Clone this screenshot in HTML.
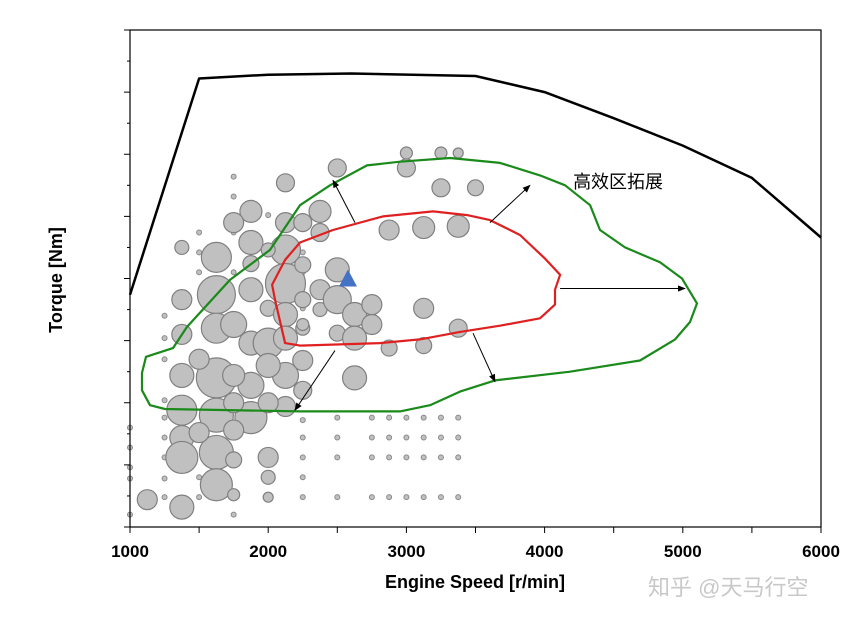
<!DOCTYPE html>
<html><head><meta charset="utf-8"><style>
html,body{margin:0;padding:0;background:#fff;width:853px;height:620px;overflow:hidden}
svg{display:block}
text{font-family:"Liberation Sans",Arial,sans-serif}
</style></head><body>
<svg id="chart" width="853" height="620" viewBox="0 0 853 620" xmlns="http://www.w3.org/2000/svg" style="position:absolute;left:0;top:0">
<defs><marker id="ah" viewBox="0 0 10 10" refX="9" refY="5" markerWidth="8" markerHeight="8" orient="auto"><path d="M0,1 L10,5 L0,9 z" fill="#000"/></marker></defs>
<g id="bubbles"></g>
<g id="lines"></g>
<g id="axes"></g>
</svg>
<script>
// ---- data ----
const xTicks=[1000,2000,3000,4000,5000,6000];
const fullSpeed=[1000,1500,2000,2600,3500,4000,4500,5000,5500,6000];
const fullTorque=[187,361,364,365,363,350,329,307,281,233];
const greenSpeed=[1087,1116,1311,1412,1724,2013,2230,2447,2715,2954,3316,3677,3967,4148,4329,4401,4582,4835,4994,5103,5052,4944,4690,4184,3641,3388,3171,2954,2230,1253,1145,1087];
const greenTorque=[124,137,144,161,199,223,259,275,291,294,297,293,283,275,259,239,225,213,200,180,165,151,134,125,118,109,98,93,93,95,98,110];
const redSpeed=[2049,2028,2122,2230,2469,2831,3193,3439,3605,3822,4003,4112,4075,4075,3967,3677,3388,3098,2809,2230,2122];
const redTorque=[183,195,215,229,239,250,254,251,247,235,216,203,191,179,168,162,157,151,148,146,148];
const arrowFromS=[2628,3605,4112,3482,2483];
const arrowFromT=[245,245,192,156,142];
const arrowToS=[2469,3894,5016,3641,2194];
const arrowToT=[279,275,192,117,94];
// bubbles: speed, torque, size (radius px)
const bubSpeed=[1875,1750,2125,1375,1625,1875,2125,1625,1875,2125,1375,2000,2125,1625,1750,1375,1875,2000,2125,2250,
1625,1375,1875,2125,1375,1625,1875,2125,1375,1375,1625,1750,2000,2000,1625,1750,1375,2000,1125,
1750,1500,1750,1500,1750,2000,2000,1875,2000,2125,
2250,2250,2250,2250,2250,2250,2375,2375,2375,2375,
2500,2500,2500,2500,2625,2625,2625,2750,2750,2875,2875,3125,3125,3125,3375,3375,
3000,3250,3500,3000,3250,3375];
const bubTorque=[254,245,245,225,217,229,223,187,191,196,183,176,171,160,163,155,148,148,152,160,
120,122,114,122,94,90,88,97,72,56,60,54,56,40,34,26,16,24,22,
78,76,122,135,100,130,100,212,223,277,
245,211,183,163,134,110,254,237,191,175,
289,207,183,156,171,152,120,163,179,239,144,241,176,146,242,160,
289,273,273,301,301,301];
const bubSize=[11,10,10,7,15,12,15,19,12,20,10,8,12,15,13,10,12,15,12,7,
20,12,13,13,15,17,16,10,12,16,17,8,10,7,16,6,12,5,10,
10,10,11,10,10,12,10,8,7,9,
9,8,8,6,10,9,11,9,10,7,
9,12,14,8,12,12,12,10,10,10,8,11,10,8,11,9,
9,9,8,6,6,5];
const dotSpeed=[1000,1000,1000,1000,1000,1250,1250,1250,1250,1250,1250,1250,1250,1250,
1500,1750,1750,2000,1500,1500,1750,2250,2250,2250,1500,1500,1750,1750,1750,
2250,2250,2250,2250,2250,2500,2500,2500,2500,2750,2750,2750,2750,2875,2875,2875,2875,
3000,3000,3000,3000,3125,3125,3125,3125,3250,3250,3250,3250,3375,3375,3375,3375];
const dotTorque=[80,64,48,39,10,170,152,135,102,88,72,56,39,24,
237,237,251,251,221,205,205,221,205,176,40,24,10,282,266,
86,72,56,40,24,88,72,56,24,88,72,56,24,88,72,56,24,
88,72,56,24,88,72,56,24,88,72,56,24,88,72,56,24];
// ---- scales ----
const X0=130,X1=821,Y0=527,Y1=30;
const xs=s=>X0+(s-1000)/5000*(X1-X0);
const ys=t=>Y0-t/400*(Y0-Y1);
const NS="http://www.w3.org/2000/svg";
function mk(tag,attrs,parent){const e=document.createElementNS(NS,tag);for(const k in attrs)e.setAttribute(k,attrs[k]);parent.appendChild(e);return e;}
const gB=document.getElementById('bubbles'),gL=document.getElementById('lines'),gA=document.getElementById('axes');
for(let i=0;i<dotSpeed.length;i++){
 const c=mk('circle',{cx:xs(dotSpeed[i]),cy:ys(dotTorque[i]),r:2.5,fill:'#c0c0c0',stroke:'#8a8a8a','stroke-width':1},gB);
 
 
}
for(let i=0;i<bubSpeed.length;i++){
 const c=mk('circle',{cx:xs(bubSpeed[i]),cy:ys(bubTorque[i]),r:bubSize[i],fill:'#c0c0c0',stroke:'#808080','stroke-width':1.2},gB);
 
 
}
function poly(S,T,closed,color,w,name){
 let d=S.map((s,i)=>(i?'L':'M')+xs(s).toFixed(1)+','+ys(T[i]).toFixed(1)).join(' ')+(closed?' Z':'');
 const p=mk('path',{d:d,fill:'none',stroke:color,'stroke-width':w,'stroke-linejoin':'round'},gL);
 
 
}
poly(greenSpeed,greenTorque,true,'#1a8a1a',2.2,'expanded-efficiency-contour');
poly(redSpeed,redTorque,true,'#e02020',2.2,'original-efficiency-contour');
poly(fullSpeed,fullTorque,false,'#000',2.5,'full-load-torque-curve');
for(let i=0;i<arrowFromS.length;i++){
 const a=mk('line',{x1:xs(arrowFromS[i]),y1:ys(arrowFromT[i]),x2:xs(arrowToS[i]),y2:ys(arrowToT[i]),stroke:'#000','stroke-width':1,'marker-end':'url(#ah)'},gL);
 
 
}
const tx=xs(2577),ty=ys(200);
const tri=mk('polygon',{points:`${tx-9},${ty+8} ${tx+9},${ty+8} ${tx},${ty-9}`,fill:'#4472c4'},gL);


const note=mk('text',{x:xs(4206),y:ys(273),'font-size':18,fill:'#000','font-family':'"Liberation Serif","Noto Serif CJK SC",serif'},gL);
note.textContent='高效区拓展';


const fr=mk('rect',{x:X0,y:Y1,width:X1-X0,height:Y0-Y1,fill:'none',stroke:'#000','stroke-width':1.2},gA);


for(let t=0;t<=400;t+=25){
 const l=mk('line',{x1:X0-(t%50===0?6:3),x2:X0,y1:ys(t),y2:ys(t),stroke:'#000','stroke-width':1},gA);
 
 
}
for(let s=1000;s<=6000;s+=500){
 const l=mk('line',{x1:xs(s),x2:xs(s),y1:Y0,y2:Y0+6,stroke:'#000','stroke-width':1},gA);
 
 
}
xTicks.forEach(v=>{
 const t=mk('text',{x:xs(v),y:557,'text-anchor':'middle','font-size':17,'font-weight':'bold'},gA);
 t.textContent=v;
 
 
});
</script>
<svg style="position:absolute;left:0;top:0" width="853" height="620">
<text x="475" y="588" text-anchor="middle" font-size="18" font-weight="bold">Engine Speed [r/min]</text>
<text transform="translate(62,280) rotate(-90)" text-anchor="middle" font-size="18" font-weight="bold">Torque [Nm]</text>
<text x="648" y="595" font-size="22" fill="#c8c8c8" style="font-family:'Liberation Sans','Noto Sans CJK SC',sans-serif">知乎 @天马行空</text>
</svg>
</body></html>
